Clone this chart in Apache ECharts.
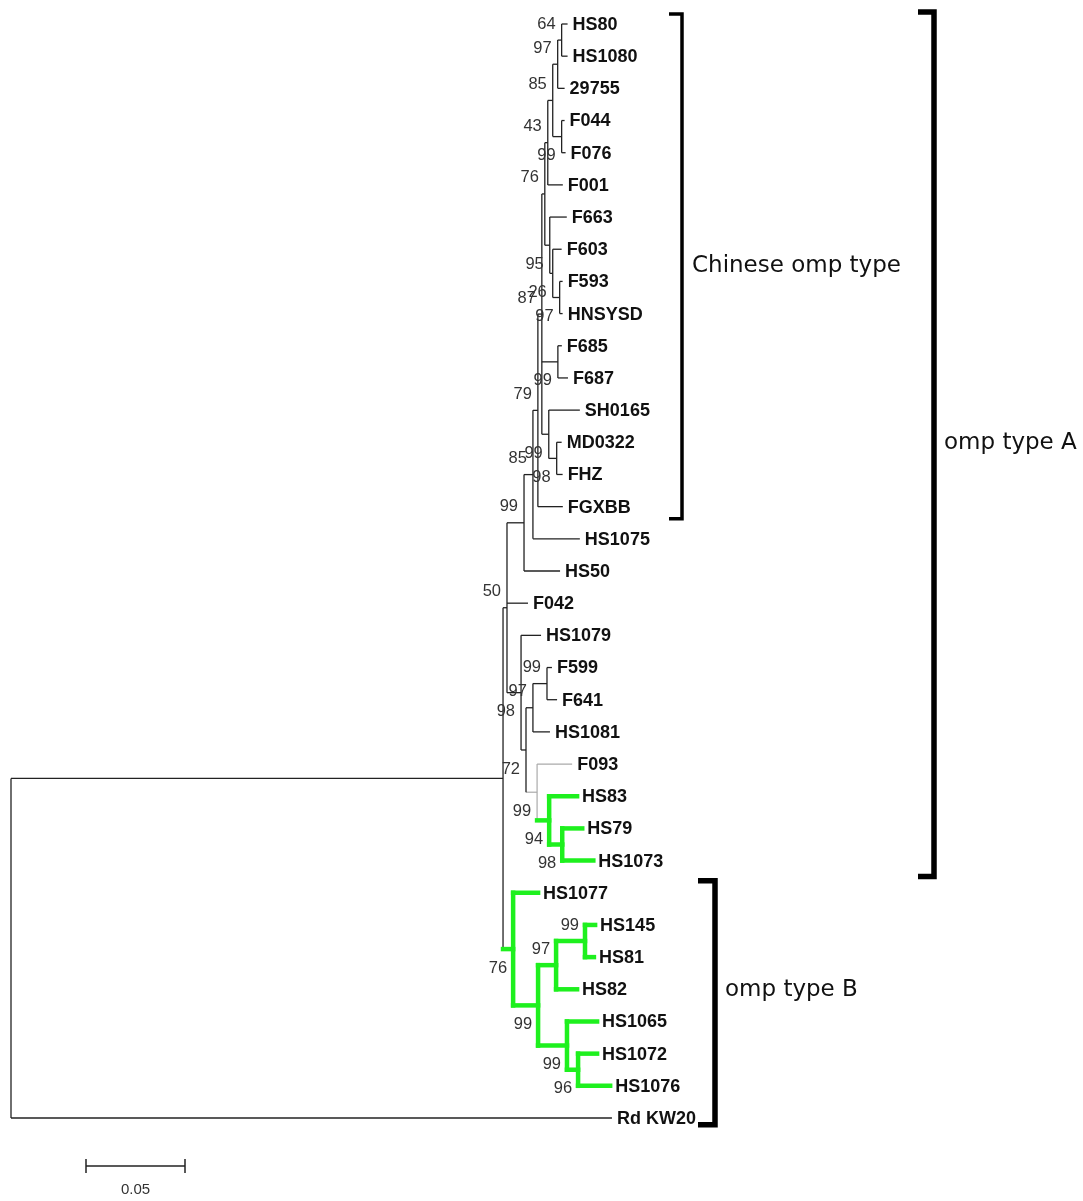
<!DOCTYPE html>
<html><head><meta charset="utf-8">
<script src="https://cdn.jsdelivr.net/npm/echarts@6/dist/echarts.min.js"></script>
<style>html,body{margin:0;padding:0;background:#fff}#c{width:1083px;height:1201px}</style>
</head><body><div id="c"></div>
<script>
// ---- Tree data (pre-order; children listed in drawing order) ----
const nodeIds = ['root','R','n50','n99a','X','Y','Z','A5','A4','A3','A2','A1','HS80','HS1080','29755','B1','F044','F076','F001','W','F663','V','F603','U','F593','HNSYSD','F68','F685','F687','S','SH0165','MDF','MD0322','FHZ','FGXBB','HS1075','HS50','F042','Nb','HS1079','Na','N97','N99f','F599','F641','HS1081','G','F093','H83','HS83','H79','HS79','HS1073','TB','HS1077','N99b','N97b','N99d','HS145','HS81','HS82','N99c','HS1065','N96','HS1072','HS1076','RdKW20'];
const nodeParents = [null,'root','R','n50','n99a','X','Y','Z','A5','A4','A3','A2','A1','A1','A2','A3','B1','B1','A4','A5','W','W','V','V','U','U','Z','F68','F68','Z','S','S','MDF','MDF','Y','X','n99a','n50','n50','Nb','Nb','Na','N97','N99f','N99f','N97','Na','G','G','H83','H83','H79','H79','R','TB','TB','N99b','N97b','N99d','N99d','N97b','N99b','N99c','N99c','N96','N96','root'];
const branchLengths = [0,0.2485,0.0020,0.0086,0.0045,0.0025,0.0020,0.0015,0.0015,0.0025,0.0025,0.0020,0.0030,0.0030,0.0035,0.0045,0.0015,0.0020,0.0076,0.0025,0.0086,0.0015,0.0045,0.0035,0.0015,0.0015,0.0081,0.0020,0.0051,0.0035,0.0157,0.0040,0.0025,0.0030,0.0126,0.0237,0.0182,0.0106,0.0071,0.0101,0.0025,0.0035,0.0071,0.0025,0.0051,0.0086,0.0056,0.0177,0.0061,0.0141,0.0066,0.0101,0.0157,0.0051,0.0126,0.0126,0.0091,0.0146,0.0051,0.0045,0.0106,0.0146,0.0152,0.0056,0.0096,0.0162,0.3035];
const leafNames = {'RdKW20':'Rd KW20'};
// bootstrap support values
const bootstrapNodes  = ['A1','A2','A3','A4','B1','A5','W','V','U','Z','F68','S','MDF','Y','X','n99a','n50','Nb','Na','N97','N99f','G','H83','H79','TB','N99b','N97b','N99d','N99c','N96'];
const bootstrapValues = [64,97,85,43,99,76,95,26,97,87,99,99,98,79,85,99,50,98,72,97,99,99,94,98,76,99,97,99,99,96];
// clade annotations
const cladeNames = ['Chinese omp type','omp type A','omp type B'];
const cladeFirstLeaf = ['HS80','HS80','HS1077'];
const cladeLastLeaf = ['FGXBB','HS1073','HS1076'];
const scaleBarValue = 0.05;

// ---- Styles ----
const greenClades = ['H83','TB'];
const greyClades = ['G'];
const bracketStyle = [
  {x:682, tick:13, w:3.5, padTop:10, padBottom:12},
  {x:934, tick:16, w:5.5, padTop:12, padBottom:16},
  {x:715, tick:17, w:5.5, padTop:12, padBottom:39}
];

// ---- Build layout from tree ----
const nodes = {};
nodeIds.forEach((id,i)=>{ nodes[id] = {id, parent:nodeParents[i], len:branchLengths[i], children:[]}; });
nodeIds.forEach(id=>{ const p = nodes[id].parent; if(p) nodes[p].children.push(id); });
let leafCounter = 0;
function layout(id, depth){
  const n = nodes[id];
  n.x = depth + n.len;
  if(!n.children.length){ n.y = leafCounter++; return; }
  n.children.forEach(c=>layout(c, n.x));
  n.y = (nodes[n.children[0]].y + nodes[n.children[n.children.length-1]].y)/2;
}
layout('root', 0);
const nLeaves = leafCounter;
function colorKey(id){
  let cur = id;
  while(cur){
    if(greenClades.includes(cur)) return 1;
    if(greyClades.includes(cur)) return 2;
    cur = nodes[cur].parent;
  }
  return 0;
}
const segs = [];
nodeIds.forEach(id=>{
  const n = nodes[id], k = colorKey(id);
  if(n.parent){ const p = nodes[n.parent]; segs.push([p.x, n.y, n.x, n.y, k]); }
  if(n.children.length){
    const a = nodes[n.children[0]], b = nodes[n.children[n.children.length-1]];
    segs.push([n.x, a.y, n.x, b.y, k]);
  }
});
const leafData = nodeIds.filter(id=>!nodes[id].children.length).map(id=>[nodes[id].x, nodes[id].y, leafNames[id]||id]);
const bootData = bootstrapNodes.map((id,i)=>{
  const n = nodes[id]; const p = nodes[n.parent];
  const first = p.children[0] === id ? 1 : 0;
  return [n.x, n.y, bootstrapValues[i], first];
});
const cladeData = cladeNames.map((nm,i)=>[nodes[cladeFirstLeaf[i]].y, nodes[cladeLastLeaf[i]].y, i]);

const colors = ['#222','#1ef01e','#aaaaaa'];
const widths = [1.3, 4.5, 1.2];

const chart = echarts.init(document.getElementById('c'));
chart.setOption({
  backgroundColor:'#fff',
  animation:false,
  grid:{left:11, right:82, top:24, bottom:83},
  xAxis:{type:'value', min:0, max:0.5, show:false},
  yAxis:{type:'value', min:0, max:nLeaves-1, inverse:true, show:false},
  series:[
    {type:'custom', data:segs, clip:false, z:2,
     renderItem(params, api){
       const p1 = api.coord([api.value(0), api.value(1)]);
       const p2 = api.coord([api.value(2), api.value(3)]);
       const k = api.value(4);
       return {type:'line', z2: k===1?5:(k===2?1:3), shape:{x1:p1[0],y1:p1[1],x2:p2[0],y2:p2[1]},
         style:{stroke:colors[k], lineWidth:widths[k], lineCap:k===1?'square':'butt'}};
     }},
    {type:'custom', data:leafData, clip:false, z:3,
     renderItem(params, api){
       const p = api.coord([api.value(0), api.value(1)]);
       return {type:'text', x:p[0]+5, y:p[1]+1, style:{text:leafData[params.dataIndex][2], fill:'#111',
         font:'bold 18px "Liberation Sans", Arial, sans-serif', align:'left', verticalAlign:'middle', textAlign:'left', textVerticalAlign:'middle'}};
     }},
    {type:'custom', data:bootData, clip:false, z:3,
     renderItem(params, api){
       const p = api.coord([api.value(0), api.value(1)]);
       const first = api.value(3);
       return {type:'text', x:p[0]-6, y:p[1] + (first ? -16 : 19), style:{text:String(api.value(2)), fill:'#333',
         font:'16.5px "Liberation Sans", Arial, sans-serif', align:'right', verticalAlign:'middle', textAlign:'right', textVerticalAlign:'middle'}};
     }},
    {type:'custom', data:cladeData, clip:false, z:3,
     renderItem(params, api){
       const i = api.value(2); const s = bracketStyle[i];
       const yTop = api.coord([0, api.value(0)])[1] - s.padTop;
       const yBot = api.coord([0, api.value(1)])[1] + s.padBottom;
       const yMid = (api.coord([0, api.value(0)])[1] + api.coord([0, api.value(1)])[1]) / 2;
       return {type:'group', children:[
         {type:'polyline', shape:{points:[[s.x-s.tick,yTop],[s.x,yTop],[s.x,yBot],[s.x-s.tick,yBot]]},
          style:{stroke:'#000', lineWidth:s.w, fill:null, lineJoin:'miter'}},
         {type:'text', x:s.x+10, y:yMid+1, style:{text:cladeNames[i], fill:'#111',
          font:'23px "DejaVu Sans", sans-serif', align:'left', verticalAlign:'middle', textAlign:'left', textVerticalAlign:'middle'}}
       ]};
     }},
    {type:'custom', data:[[scaleBarValue]], clip:false, z:3,
     renderItem(params, api){
       const x0 = 86;
       const len = api.coord([api.value(0), 0])[0] - api.coord([0, 0])[0];
       const y = 1166;
       return {type:'group', children:[
         {type:'line', shape:{x1:x0,y1:y,x2:x0+len,y2:y}, style:{stroke:'#222', lineWidth:1.5}},
         {type:'line', shape:{x1:x0,y1:y-7,x2:x0,y2:y+7}, style:{stroke:'#222', lineWidth:1.5}},
         {type:'line', shape:{x1:x0+len,y1:y-7,x2:x0+len,y2:y+7}, style:{stroke:'#222', lineWidth:1.5}},
         {type:'text', x:x0+len/2, y:y+24, style:{text:String(api.value(0)), fill:'#333',
          font:'15px "Liberation Sans", Arial, sans-serif', align:'center', verticalAlign:'middle', textAlign:'center', textVerticalAlign:'middle'}}
       ]};
     }}
  ]
});
</script></body></html>
